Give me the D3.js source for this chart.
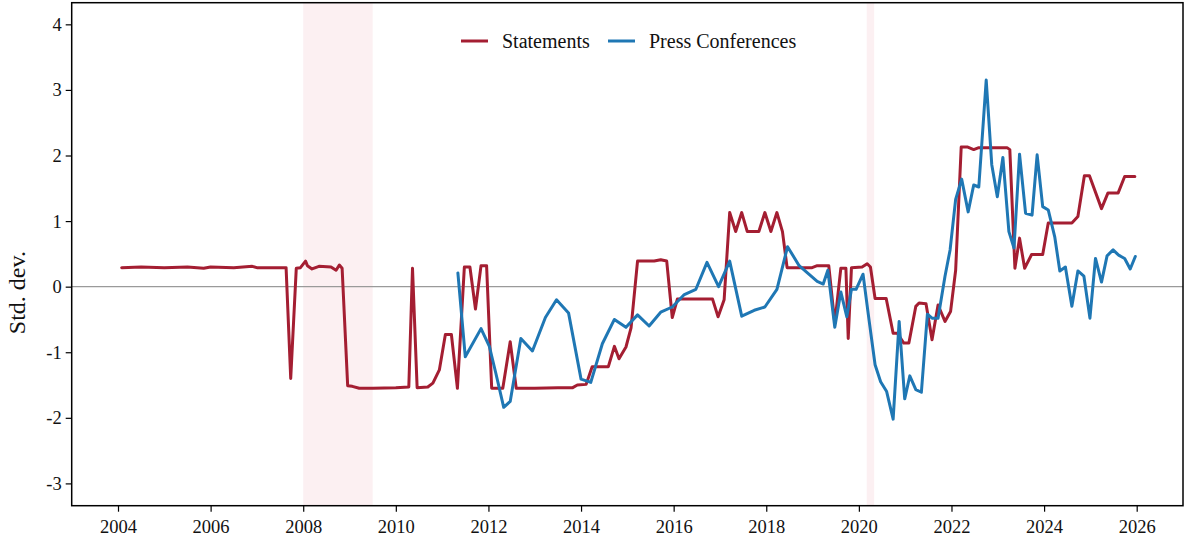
<!DOCTYPE html>
<html>
<head>
<meta charset="utf-8">
<script src="https://cdn.jsdelivr.net/npm/d3@7"></script>
<style>
  html, body { margin: 0; padding: 0; background: #ffffff; }
  svg { display: block; font-family: "Liberation Serif", "DejaVu Serif", serif; }
</style>
</head>
<body>
<svg id="chart" width="1184" height="540"></svg>
<script>
// Fed communication tone index, standardized (decimal-year dates)
const statementDates = [
  2004.08, 2004.50, 2005.00, 2005.50, 2005.85, 2006.00, 2006.50, 2006.90, 2007.00, 2007.50, 2007.63,
  2007.73, 2007.85, 2007.94, 2008.05, 2008.09, 2008.19, 2008.34, 2008.60, 2008.71, 2008.78, 2008.84,
  2008.96, 2009.06, 2009.21, 2009.50, 2010.00, 2010.28, 2010.36, 2010.46, 2010.69, 2010.80, 2010.94,
  2011.07, 2011.20, 2011.33, 2011.48, 2011.60, 2011.72, 2011.84, 2011.96, 2012.07, 2012.31, 2012.47,
  2012.60, 2013.00, 2013.50, 2013.82, 2013.92, 2014.11, 2014.24, 2014.59, 2014.72, 2014.82, 2014.97,
  2015.08, 2015.22, 2015.58, 2015.72, 2015.85, 2015.97, 2016.08, 2016.19, 2016.50, 2016.84, 2016.96,
  2017.09, 2017.21, 2017.34, 2017.47, 2017.59, 2017.84, 2017.97, 2018.10, 2018.23, 2018.35, 2018.45,
  2018.71, 2018.99, 2019.10, 2019.35, 2019.48, 2019.61, 2019.72, 2019.77, 2019.84, 2020.07, 2020.18,
  2020.25, 2020.35, 2020.59, 2020.74, 2020.83, 2020.97, 2021.08, 2021.23, 2021.30, 2021.45, 2021.58,
  2021.71, 2021.86, 2021.98, 2022.09, 2022.21, 2022.34, 2022.48, 2022.59, 2023.20, 2023.26, 2023.37,
  2023.47, 2023.58, 2023.73, 2023.97, 2024.09, 2024.60, 2024.73, 2024.87, 2024.98, 2025.24, 2025.38,
  2025.60, 2025.74, 2025.96
];
const statementValues = [
  0.29, 0.30, 0.29, 0.30, 0.28, 0.30, 0.29, 0.31, 0.29, 0.29, 0.29,
  -1.40, 0.28, 0.29, 0.39, 0.32, 0.27, 0.31, 0.30, 0.25, 0.33, 0.28,
  -1.51, -1.52, -1.55, -1.55, -1.54, -1.53, 0.28, -1.54, -1.53, -1.47, -1.27,
  -0.73, -0.73, -1.55, 0.30, 0.30, -0.34, 0.32, 0.32, -1.55, -1.55, -0.84,
  -1.55, -1.55, -1.54, -1.54, -1.50, -1.49, -1.22, -1.22, -0.91, -1.10, -0.92,
  -0.63, 0.39, 0.39, 0.41, 0.39, -0.47, -0.19, -0.19, -0.19, -0.19, -0.46,
  -0.20, 1.13, 0.84, 1.13, 0.84, 0.84, 1.13, 0.84, 1.13, 0.84, 0.29,
  0.29, 0.29, 0.32, 0.32, -0.56, 0.28, 0.28, -0.79, 0.29, 0.30, 0.35,
  0.30, -0.18, -0.18, -0.71, -0.71, -0.86, -0.86, -0.30, -0.25, -0.26, -0.81,
  -0.28, -0.53, -0.38, 0.25, 2.13, 2.13, 2.09, 2.12, 2.12, 2.09, 0.28,
  0.74, 0.28, 0.49, 0.49, 0.97, 0.97, 1.07, 1.69, 1.69, 1.19, 1.43,
  1.43, 1.68, 1.68
];

const pressDates = [
  2011.34, 2011.50, 2011.84, 2012.02, 2012.16, 2012.33, 2012.47, 2012.70, 2012.95, 2013.23, 2013.47,
  2013.73, 2014.00, 2014.21, 2014.46, 2014.72, 2014.97, 2015.22, 2015.47, 2015.72, 2015.97, 2016.23,
  2016.48, 2016.72, 2016.97, 2017.21, 2017.47, 2017.74, 2017.97, 2018.23, 2018.46, 2018.71, 2018.92,
  2019.10, 2019.23, 2019.33, 2019.48, 2019.61, 2019.74, 2019.84, 2019.94, 2020.09, 2020.22, 2020.35,
  2020.47, 2020.60, 2020.74, 2020.87, 2020.99, 2021.10, 2021.23, 2021.35, 2021.48, 2021.58, 2021.71,
  2021.86, 2021.97, 2022.09, 2022.22, 2022.36, 2022.48, 2022.59, 2022.75, 2022.87, 2022.99, 2023.11,
  2023.24, 2023.35, 2023.47, 2023.60, 2023.74, 2023.85, 2023.97, 2024.09, 2024.23, 2024.34, 2024.46,
  2024.60, 2024.73, 2024.86, 2024.99, 2025.11, 2025.24, 2025.36, 2025.49, 2025.61, 2025.74, 2025.86,
  2025.97
];
const pressValues = [
  0.21, -1.07, -0.64, -0.91, -1.32, -1.84, -1.75, -0.79, -0.98, -0.47, -0.20,
  -0.40, -1.41, -1.46, -0.87, -0.50, -0.62, -0.43, -0.60, -0.39, -0.31, -0.12,
  -0.04, 0.37, 0.00, 0.39, -0.45, -0.36, -0.31, -0.04, 0.61, 0.32, 0.19,
  0.08, 0.04, 0.25, -0.62, -0.08, -0.46, -0.04, -0.04, 0.19, -0.51, -1.19,
  -1.45, -1.60, -2.02, -0.53, -1.71, -1.36, -1.57, -1.61, -0.42, -0.48, -0.48,
  0.16, 0.56, 1.33, 1.64, 1.14, 1.55, 1.52, 3.15, 1.86, 1.37, 1.97,
  0.84, 0.59, 2.02, 1.12, 1.09, 2.01, 1.22, 1.17, 0.76, 0.24, 0.30,
  -0.30, 0.24, 0.16, -0.48, 0.43, 0.07, 0.47, 0.56, 0.48, 0.43, 0.27,
  0.46
];

// NBER recession periods (start, end)
const recessionStarts = [2008.0, 2020.17];
const recessionEnds = [2009.5, 2020.33];

const xTicks = [2004, 2006, 2008, 2010, 2012, 2014, 2016, 2018, 2020, 2022, 2024, 2026];
const yTicks = [-3, -2, -1, 0, 1, 2, 3, 4];
const seriesNames = ["Statements", "Press Conferences"];
const seriesColors = ["#a41e32", "#1f77b4"];

const svg = d3.select("#chart");
const margin = { left: 71.7, right: 1183, top: 2.7, bottom: 505.7 };

const x = d3.scaleLinear().domain([2003.0, 2027.0]).range([margin.left, margin.right]);
const y = d3.scaleLinear().domain([-3.34, 4.33]).range([margin.bottom, margin.top]);

const plot = svg.append("g");

// recession shading
plot.selectAll("rect.recession")
  .data(d3.zip(recessionStarts, recessionEnds))
  .join("rect")
  .attr("class", "recession")
  .attr("x", d => x(d[0]))
  .attr("width", d => x(d[1]) - x(d[0]))
  .attr("y", margin.top)
  .attr("height", margin.bottom - margin.top)
  .attr("fill", "#fcf0f2");

// zero reference line
plot.append("line")
  .attr("x1", margin.left).attr("x2", margin.right)
  .attr("y1", y(0)).attr("y2", y(0))
  .attr("stroke", "#9a9a9a").attr("stroke-width", 1.2);

const line = d3.line().x(d => x(d[0])).y(d => y(d[1]));

const series = [
  d3.zip(statementDates, statementValues),
  d3.zip(pressDates, pressValues)
];

plot.selectAll("path.series")
  .data(series)
  .join("path")
  .attr("class", "series")
  .attr("d", line)
  .attr("fill", "none")
  .attr("stroke", (d, i) => seriesColors[i])
  .attr("stroke-width", 3)
  .attr("stroke-linejoin", "round")
  .attr("stroke-linecap", "round");

// frame
svg.append("rect")
  .attr("x", margin.left).attr("y", margin.top)
  .attr("width", margin.right - margin.left)
  .attr("height", margin.bottom - margin.top)
  .attr("fill", "none").attr("stroke", "#000").attr("stroke-width", 1.5);

// axes
const xAxis = svg.append("g")
  .attr("transform", `translate(0,${margin.bottom})`)
  .call(d3.axisBottom(x).tickValues(xTicks).tickFormat(d3.format("d")).tickSize(6).tickPadding(8));
const yAxis = svg.append("g")
  .attr("transform", `translate(${margin.left},0)`)
  .call(d3.axisLeft(y).tickValues(yTicks).tickFormat(d => d < 0 ? "-" + Math.abs(d) : d).tickSize(6).tickPadding(4));

[xAxis, yAxis].forEach(a => {
  a.select(".domain").remove();
  a.selectAll(".tick line").attr("stroke", "#000").attr("stroke-width", 1.2);
  a.selectAll(".tick text")
    .attr("fill", "#111")
    .style("font-family", "'Liberation Serif', serif")
    .style("font-size", "18.5px");
});

// y-axis title
svg.append("text")
  .attr("transform", `translate(25,${(y(0) + 6)}) rotate(-90)`)
  .attr("text-anchor", "middle")
  .attr("fill", "#111")
  .style("font-size", "24px")
  .text("Std. dev.");

// legend
const legend = svg.append("g");
const legendX = [461, 608];
seriesNames.forEach((name, i) => {
  const g = legend.append("g").attr("transform", `translate(${legendX[i]},41)`);
  g.append("line")
    .attr("x1", 0).attr("x2", 27).attr("y1", 0).attr("y2", 0)
    .attr("stroke", seriesColors[i]).attr("stroke-width", 3);
  g.append("text")
    .attr("x", 41).attr("y", 6.5)
    .attr("fill", "#111")
    .style("font-size", "20px")
    .text(name);
});
</script>
</body>
</html>
